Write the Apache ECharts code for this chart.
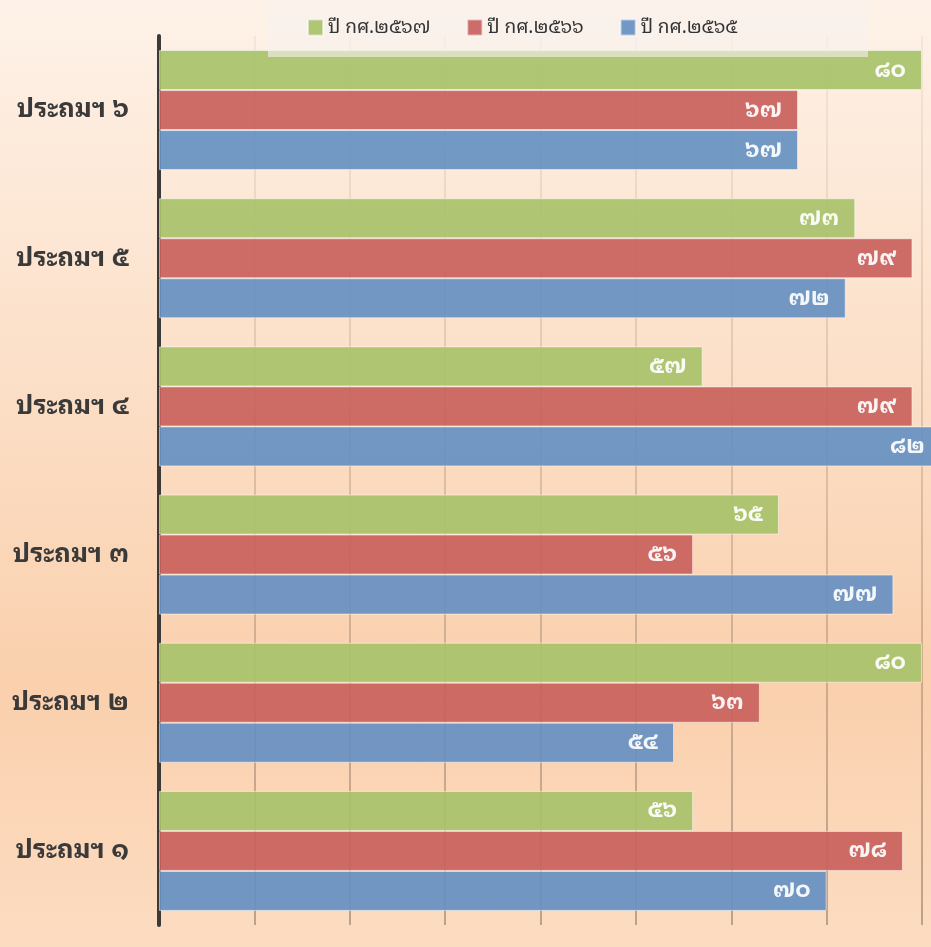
<!DOCTYPE html>
<html>
<head>
<meta charset="utf-8">
<script src="https://cdn.jsdelivr.net/npm/echarts@6/dist/echarts.min.js"></script>
<style>
  html, body { margin: 0; padding: 0; }
  #main { width: 931px; height: 947px; }
</style>
</head>
<body>
<div id="main"></div>
<script>
// ชั้นเรียน (ล่างขึ้นบน)
var categories = ['ประถมฯ ๑', 'ประถมฯ ๒', 'ประถมฯ ๓', 'ประถมฯ ๔', 'ประถมฯ ๕', 'ประถมฯ ๖'];
var seriesNames = ['ปี กศ.๒๕๖๗', 'ปี กศ.๒๕๖๖', 'ปี กศ.๒๕๖๕'];
var year2567 = [56, 80, 65, 57, 73, 80];
var year2566 = [78, 63, 56, 79, 79, 67];
var year2565 = [70, 54, 77, 82, 72, 67];
var xTicks = [0, 10, 20, 30, 40, 50, 60, 70, 80];

var thaiDigits = ['๐', '๑', '๒', '๓', '๔', '๕', '๖', '๗', '๘', '๙'];
function toThai(n) {
    return String(n).replace(/[0-9]/g, function (d) { return thaiDigits[+d]; });
}

var font = '"Noto Sans Thai Looped", "Noto Sans Thai", "Noto Sans", sans-serif';

function makeSeries(name, data, color) {
    return {
        name: name,
        type: 'bar',
        data: data,
        clip: false,
        barGap: '0%',
        barCategoryGap: '19%',
        itemStyle: { color: color, opacity: 0.92, borderColor: 'rgba(255,255,255,0.55)', borderWidth: 1 },
        label: {
            show: true,
            position: 'insideRight',
            distance: 16,
            color: '#fff',
            fontSize: 23,
            fontWeight: 'bold',
            fontFamily: font,
            formatter: function (p) { return toThai(p.value); }
        }
    };
}

var myChart = echarts.init(document.getElementById('main'));
myChart.setOption({
    animation: false,
    backgroundColor: new echarts.graphic.LinearGradient(0, 0, 0, 1, [
        { offset: 0, color: '#fef2e8' },
        { offset: 0.72, color: '#fad0ad' },
        { offset: 1, color: '#fcdcc1' }
    ]),
    textStyle: { fontFamily: font },
    graphic: [{
        type: 'rect',
        z: 3,
        shape: { x: 268, y: 0, width: 600, height: 57 },
        style: { fill: 'rgba(246,242,238,0.6)' }
    }],
    legend: {
        data: seriesNames,
        left: 302,
        top: 13,
        z: 6,
        itemWidth: 15,
        itemHeight: 16,
        itemGap: 36,
        icon: 'rect',
        textStyle: { fontSize: 19, color: '#333', fontFamily: font }
    },
    grid: { left: 159, right: 9, top: 36, bottom: 22, containLabel: false },
    xAxis: {
        type: 'value',
        min: xTicks[0],
        max: xTicks[xTicks.length - 1],
        interval: 10,
        axisLine: { show: false },
        axisTick: { show: false },
        axisLabel: { show: false },
        splitLine: {
            show: true,
            lineStyle: {
                width: 1.5,
                color: new echarts.graphic.LinearGradient(0, 0, 0, 1, [
                    { offset: 0, color: 'rgba(160,130,110,0.12)' },
                    { offset: 1, color: 'rgba(110,90,75,0.6)' }
                ])
            }
        }
    },
    yAxis: {
        type: 'category',
        data: categories,
        axisLine: { show: true, lineStyle: { color: '#3a3a3a', width: 4 } },
        axisTick: { show: false },
        axisLabel: { fontSize: 26, color: '#3a3a3a', fontWeight: 'bold', margin: 30, fontFamily: font }
    },
    series: [
        makeSeries(seriesNames[0], year2567, '#a8c26a'),
        makeSeries(seriesNames[1], year2566, '#c9615c'),
        makeSeries(seriesNames[2], year2565, '#6690c2')
    ]
});
</script>
</body>
</html>
